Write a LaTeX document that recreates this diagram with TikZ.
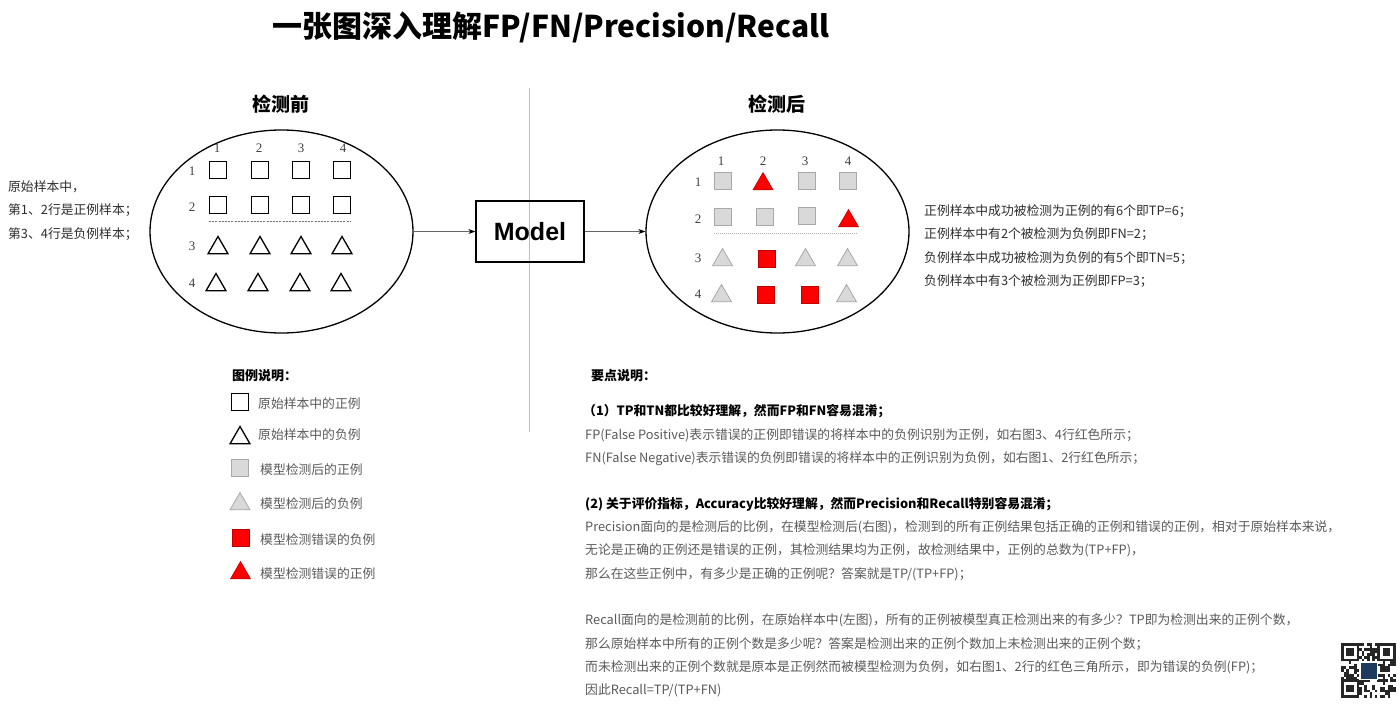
\documentclass[tikz,border=0pt]{standalone}
\usepackage{fontspec}
\setmainfont{Noto Sans CJK SC}
\newfontfamily\msans{Liberation Sans}
\newfontfamily\mserif{Liberation Serif}
\usetikzlibrary{shapes.geometric,arrows.meta}
\definecolor{txtgray}{HTML}{5A5A5A}
\definecolor{txtdark}{HTML}{2E2E2E}
\definecolor{boxgray}{HTML}{D9D9D9}
\definecolor{bordgray}{HTML}{A8A8A8}
\definecolor{redfill}{HTML}{FF0000}
\definecolor{redbord}{HTML}{C00000}
\definecolor{qrblue}{HTML}{1F3A5F}
\begin{document}
\begin{tikzpicture}[x=1pt,y=-1pt,
  body/.style={anchor=base west, inner sep=0pt, font=\fontsize{12.8}{14}\selectfont, text=txtgray},
  dark/.style={anchor=base west, inner sep=0pt, font=\fontsize{12.8}{14}\selectfont, text=txtdark},
  head/.style={anchor=base west, inner sep=0pt, font=\fontsize{13}{14}\selectfont\bfseries, text=black},
  sect/.style={inner sep=0pt, font=\fontsize{19}{20}\selectfont\bfseries, text=black},
  num/.style={inner sep=0pt, font=\mserif\fontsize{13}{14}\selectfont, text=black!75},
  osq/.style={draw=black, line width=1.3pt, fill=white, minimum size=17pt, inner sep=0pt},
  otri/.style={regular polygon, regular polygon sides=3, draw=black, line width=1.3pt, fill=white, minimum size=23pt, inner sep=0pt},
  gsq/.style={draw=bordgray, line width=0.8pt, fill=boxgray, minimum size=17pt, inner sep=0pt},
  gtri/.style={regular polygon, regular polygon sides=3, draw=bordgray, line width=0.8pt, fill=boxgray, minimum size=23pt, inner sep=0pt},
  rsq/.style={draw=redbord, line width=0.6pt, fill=redfill, minimum size=17pt, inner sep=0pt},
  rtri/.style={regular polygon, regular polygon sides=3, draw=redbord, line width=0.6pt, fill=redfill, minimum size=23pt, inner sep=0pt},
  ell/.style={ellipse, draw=black, line width=1.3pt, minimum width=263pt, minimum height=203pt, inner sep=0pt},
  flow/.style={draw=black!60, line width=0.8pt, -{Stealth[black,length=7pt,width=5pt]}},
]
\useasboundingbox[fill=white] (0,0) rectangle (1400,704);

% title
\node[inner sep=0pt, font=\fontsize{30}{31}\selectfont\bfseries] (title) at (551,27) {一张图深入理解FP/FN/Precision/Recall};

% divider
\draw[black!25, line width=0.6pt] (529,88) -- (529,432);

% section headers
\node[sect] (secL) at (281,104) {检测前};
\node[sect] (secR) at (777,104) {检测后};

% left description
\node[dark] (l1) at (8,191) {原始样本中，};
\node[dark] (l2) at (8,214) {第1、2行是正例样本；};
\node[dark] (l3) at (8,238) {第3、4行是负例样本；};

% ellipses and model
\node[ell] (ellL) at (281.5,231.5) {};
\node[ell] (ellR) at (777.5,231.5) {};
\node[draw=black, line width=1.3pt, minimum width=108pt, minimum height=61pt, inner sep=0pt,
      font=\msans\bfseries\fontsize{25}{26}\selectfont] (model) at (530,231.5) {Model};
\draw[flow] (ellL.east) -- (model.west);
\draw[flow] (model.east) -- (ellR.west);

% left grid labels
\foreach \x/\n in {217/1,259/2,301/3,343/4} \node[num] (lc\n) at (\x,148) {\n};
\foreach \y/\n in {171/1,207/2,246/3,283/4} \node[num] (lr\n) at (192,\y) {\n};
% left grid
\foreach \x/\n in {218/1,260/2,301/3,342/4}{
  \node[osq] (a1\n) at (\x,170) {};
  \node[osq] (a2\n) at (\x,205) {};
  \node[otri] (a3\n) at (\x,248) {};
}
\foreach \x/\n in {216/1,258/2,300/3,341/4} \node[otri] (a4\n) at (\x,285) {};
\draw[black!55, line width=0.7pt, dash pattern=on 2pt off 1.2pt] (209,221) -- (351,221);

% right grid labels
\foreach \x/\n in {721/1,763/2,805/3,848/4} \node[num] (rc\n) at (\x,161) {\n};
\foreach \y/\n in {182/1,219/2,258/3,294/4} \node[num] (rr\n) at (698,\y) {\n};
% right grid
\node[gsq]  (b11) at (722.5,181) {};
\node[rtri] (b12) at (763,184) {};
\node[gsq]  (b13) at (806.5,180.5) {};
\node[gsq]  (b14) at (848,180.5) {};
\node[gsq]  (b21) at (722.5,216.5) {};
\node[gsq]  (b22) at (764.5,217) {};
\node[gsq]  (b23) at (806.5,216) {};
\node[rtri] (b24) at (848.5,221) {};
\node[gtri] (b31) at (722.5,260) {};
\node[rsq]  (b32) at (766.5,258.5) {};
\node[gtri] (b33) at (805.5,260) {};
\node[gtri] (b34) at (847.5,260) {};
\node[gtri] (b41) at (721.5,296) {};
\node[rsq]  (b42) at (765.5,294.5) {};
\node[rsq]  (b43) at (809.5,294.5) {};
\node[gtri] (b44) at (846.5,296) {};
\draw[black!30, line width=0.6pt, dash pattern=on 1pt off 1pt] (714,233) -- (857,233);

% right description
\node[dark] (r1) at (924,215) {正例样本中成功被检测为正例的有6个即TP=6；};
\node[dark] (r2) at (924,238) {正例样本中有2个被检测为负例即FN=2；};
\node[dark] (r3) at (924,262) {负例样本中成功被检测为负例的有5个即TN=5；};
\node[dark] (r4) at (924,285) {负例样本中有3个被检测为正例即FP=3；};

% legend
\node[head] (lgh) at (232,380) {图例说明：};
\node[osq]  (lg1) at (240,402) {};
\node[otri] (lg2) at (240,438) {};
\node[gsq]  (lg3) at (240,468) {};
\node[gtri] (lg4) at (240,504) {};
\node[rsq]  (lg5) at (240.5,538) {};
\node[rtri] (lg6) at (240.5,573) {};
\node[body] (lt1) at (258,408) {原始样本中的正例};
\node[body] (lt2) at (258,439) {原始样本中的负例};
\node[body] (lt3) at (260,474) {模型检测后的正例};
\node[body] (lt4) at (260,508) {模型检测后的负例};
\node[body] (lt5) at (260,544) {模型检测错误的负例};
\node[body] (lt6) at (260,578) {模型检测错误的正例};

% key points
\node[head] (kh) at (591,380) {要点说明：};
\node[head, font=\fontsize{12.8}{14}\selectfont\bfseries] (k1) at (583,415) {（1）TP和TN都比较好理解，然而FP和FN容易混淆；};
\node[body] (k2) at (585,439) {FP(False Positive)表示错误的正例即错误的将样本中的负例识别为正例，如右图3、4行红色所示；};
\node[body] (k3) at (585,462) {FN(False Negative)表示错误的负例即错误的将样本中的正例识别为负例，如右图1、2行红色所示；};
\node[head, font=\fontsize{12.8}{14}\selectfont\bfseries] (k4) at (585,508) {(2) 关于评价指标，Accuracy比较好理解，然而Precision和Recall特别容易混淆；};
\node[body] (k5) at (585,531) {Precision面向的是检测后的比例，在模型检测后(右图)，检测到的所有正例结果包括正确的正例和错误的正例，相对于原始样本来说，};
\node[body] (k6) at (585,554) {无论是正确的正例还是错误的正例，其检测结果均为正例，故检测结果中，正例的总数为(TP+FP)，};
\node[body] (k7) at (585,578) {那么在这些正例中，有多少是正确的正例呢？答案就是TP/(TP+FP)；};
\node[body] (k8) at (585,624) {Recall面向的是检测前的比例，在原始样本中(左图)，所有的正例被模型真正检测出来的有多少？TP即为检测出来的正例个数，};
\node[body] (k9) at (585,648) {那么原始样本中所有的正例个数是多少呢？答案是检测出来的正例个数加上未检测出来的正例个数；};
\node[body] (k10) at (585,671) {而未检测出来的正例个数就是原本是正例然而被模型检测为负例，如右图1、2行的红色三角所示，即为错误的负例(FP)；};
\node[body] (k11) at (585,694) {因此Recall=TP/(TP+FN)};

% QR code (approximate)
\pgfmathsetseed{11}
\foreach \i in {0,...,20}{
  \foreach \j in {0,...,20}{
    \pgfmathtruncatemacro\bit{rnd>0.5}
    \ifnum\bit=1 \fill[black!85] ({1341+2.6*\i},{643+2.6*\j}) rectangle ++(2.6,2.6); \fi
  }
}
\foreach \ox/\oy in {1341/643,1377.4/643,1341/679.4}{
  \fill[white] (\ox,\oy) rectangle ++(18.2,18.2);
  \fill[black!85] (\ox,\oy) rectangle ++(18.2,18.2);
  \fill[white] ({\ox+2.6},{\oy+2.6}) rectangle ++(13,13);
  \fill[black!85] ({\ox+5.2},{\oy+5.2}) rectangle ++(7.8,7.8);
}
\fill[white] (1359,661) rectangle (1378,680);
\fill[qrblue] (1360.5,662.5) rectangle (1376.5,678.5);
\end{tikzpicture}
\end{document}
